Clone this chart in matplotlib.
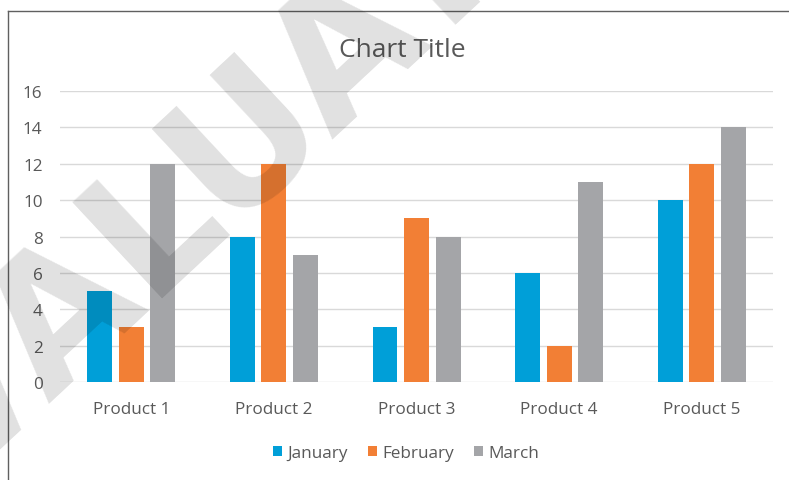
import matplotlib
matplotlib.use("Agg")
import matplotlib.pyplot as plt
import numpy as np
from matplotlib.lines import Line2D
from matplotlib.textpath import TextPath
from matplotlib.font_manager import FontProperties

plt.rcParams['font.family'] = ['Open Sans', 'DejaVu Sans']

# data
products = ["Product 1", "Product 2", "Product 3", "Product 4", "Product 5"]
january = [5, 8, 3, 6, 10]
february = [3, 12, 9, 2, 12]
march = [12, 7, 8, 11, 14]
series_names = ["January", "February", "March"]
colors = ["#009FD8", "#F27F35", "#A4A5A8"]
yticks = [0, 2, 4, 6, 8, 10, 12, 14, 16]

text_col = "#595959"
W, H = 789, 481

fig = plt.figure(figsize=(W / 100, H / 100), dpi=100)
ax = fig.add_axes([0.076, 0.2037, 0.904, 0.605])

x = np.arange(len(products))
w = 1 / 5.73
step = 1.27 * w
for i, (vals, name) in enumerate(zip([january, february, march], series_names)):
    ax.bar(x + (i - 1) * step, vals, width=w, color=colors[i], label=name, zorder=3)

ax.set_xlim(-0.5, len(products) - 0.5)
ax.set_ylim(0, 16)
ax.set_yticks(yticks)
ax.set_xticks(x)
ax.set_xticklabels(products)
ax.grid(axis='y', color="#D9D9D9", linewidth=1.0, zorder=0)
for s in ax.spines.values():
    s.set_visible(False)
ax.tick_params(axis='both', length=0, colors=text_col, labelsize=12.3)
ax.tick_params(axis='y', pad=12.5)
ax.tick_params(axis='x', pad=14)

fig.text(0.510, 0.896, "Chart Title", ha='center', va='center', fontsize=19, color=text_col)

leg = fig.legend(loc='center', bbox_to_anchor=(0.5146, 0.056), ncol=3, frameon=False,
                 fontsize=12.3, handlelength=0.53, handleheight=0.53,
                 handletextpad=0.3, columnspacing=1.2, labelcolor=text_col)

# chart border (left and top edges visible)
fig.add_artist(Line2D([8 / W, 8 / W], [0, 1 - 12 / H], transform=fig.transFigure,
                      color="#606060", linewidth=1.0))
fig.add_artist(Line2D([8 / W, 1], [1 - 12 / H, 1 - 12 / H], transform=fig.transFigure,
                      color="#606060", linewidth=1.0))

# evaluation watermark: place it so the "L" corner sits where it does in the screenshot
wm = "EVALUATION"
fp = FontProperties(family='DejaVu Sans', weight='bold')
angle = 43
def ext(s, size):
    return TextPath((0, 0), s, size=size, prop=fp).get_extents()
size_px = 180 * 131 / ext("L", 180).height
off = (ext("EVAL", size_px).x1 - ext("L", size_px).x1 + ext("L", size_px).x0
       - ext("E", size_px).x0)
a = np.radians(angle)
corner_x, corner_y = 147, H - 298
ax0 = corner_x - off * np.cos(a)
ay0 = corner_y - off * np.sin(a)
fig.text(ax0 / W, ay0 / H, wm, rotation=angle, rotation_mode='anchor',
         ha='left', va='baseline', fontsize=size_px * 72 / 100,
         family='DejaVu Sans', fontweight='bold', color='black', alpha=0.12, zorder=10)

fig.savefig("out.png", dpi=100)
